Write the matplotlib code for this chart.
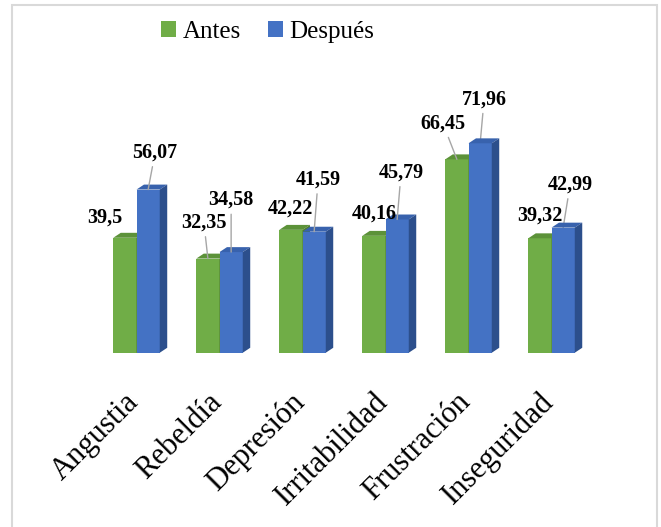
import matplotlib.pyplot as plt
from matplotlib.patches import Patch, Polygon, Rectangle

categories = ['Angustia', 'Rebeldía', 'Depresión', 'Irritabilidad', 'Frustración', 'Inseguridad']
series_names = ['Antes', 'Después']
antes = [39.5, 32.35, 42.22, 40.16, 66.45, 39.32]
despues = [56.07, 34.58, 41.59, 45.79, 71.96, 42.99]

# label placement: offset in pixels from the bar top, and whether a leader line is drawn
antes_offsets = [(-20, 20), (-4, 36), (0, 21), (0, 22), (-14, 36), (0, 23)]
despues_offsets = [(7, 37), (0, 52), (4, 52), (4, 47), (4, 44), (7, 43)]
antes_leader = [False, True, False, False, True, False]
despues_leader = [True, True, True, True, True, True]

GREEN = ('#70ad47', '#5c9239', '#4e7d31')
BLUE = ('#4472c4', '#3862ad', '#2c4f8c')
BAR_W = 0.28
DEPTH_X = 0.09
DEPTH_Y = 1.7
SERIF = 'Liberation Serif'


def draw_bar(ax, x0, value, colors, z):
    front, top, side = colors
    x1 = x0 + BAR_W
    ax.bar(x0, value, BAR_W, align='edge', color=front, zorder=z)
    ax.add_patch(Polygon(
        [(x0, value), (x0 + DEPTH_X, value + DEPTH_Y),
         (x1 + DEPTH_X, value + DEPTH_Y), (x1, value)],
        closed=True, facecolor=top, edgecolor='none', zorder=z,
    ))
    ax.add_patch(Polygon(
        [(x1, 0), (x1 + DEPTH_X, DEPTH_Y),
         (x1 + DEPTH_X, value + DEPTH_Y), (x1, value)],
        closed=True, facecolor=side, edgecolor='none', zorder=z,
    ))


def label_bar(ax, x, value, offset, leader):
    text = f'{value:g}'.replace('.', ',')
    arrow = None
    if leader:
        arrow = dict(arrowstyle='-', color='#a6a6a6', lw=1, shrinkA=1, shrinkB=0)
    ax.annotate(
        text, xy=(x, value), xytext=offset, textcoords='offset pixels',
        ha='center', va='center', fontsize=14.5, fontweight='bold',
        family=SERIF, annotation_clip=False, arrowprops=arrow, zorder=10,
    )


fig = plt.figure(figsize=(6.61, 5.27), dpi=100)
ax = fig.add_axes([0.0935, 0.3307, 0.8539, 0.4694])

for i in range(len(categories)):
    draw_bar(ax, i - BAR_W, antes[i], GREEN, 2 + 2 * i)
    draw_bar(ax, i, despues[i], BLUE, 3 + 2 * i)
    label_bar(ax, i - BAR_W / 2, antes[i], antes_offsets[i], antes_leader[i])
    label_bar(ax, i + BAR_W / 2, despues[i], despues_offsets[i], despues_leader[i])

ax.set_xlim(-0.9, 5.9)
ax.set_ylim(0, 85)
# category labels sit slightly left of the bar pairs, as on the chart floor
ax.set_xticks([i - 0.15 for i in range(len(categories))])
ax.set_xticklabels(categories, rotation=45, ha='right', rotation_mode='anchor',
                   fontsize=22, family=SERIF)
ax.tick_params(axis='x', length=0, pad=25)
ax.set_yticks([])
for spine in ax.spines.values():
    spine.set_visible(False)

handles = [Patch(facecolor=GREEN[0]), Patch(facecolor=BLUE[0])]
fig.legend(handles, series_names, loc='center', bbox_to_anchor=(0.405, 0.94),
           ncol=2, frameon=False, prop={'family': SERIF, 'size': 18},
           handlelength=0.6, handleheight=0.6, handletextpad=0.25, columnspacing=1.1)

fig.add_artist(Rectangle((12 / 661, -0.01), 645 / 661, 1 - 5 / 527 + 0.01,
                         transform=fig.transFigure, fill=False,
                         edgecolor='#d9d9d9', lw=1.5))

fig.savefig('out.png', dpi=100)
